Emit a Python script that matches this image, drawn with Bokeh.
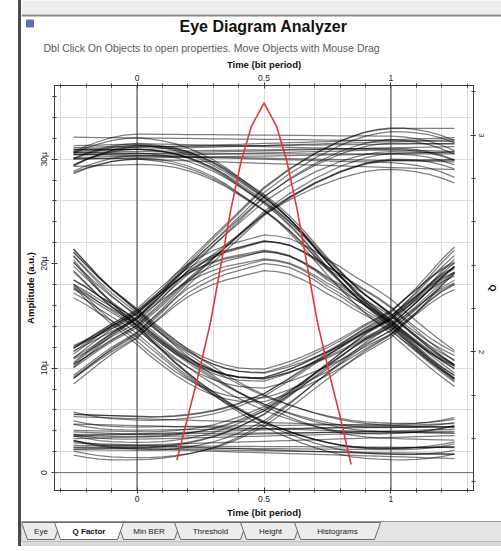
import numpy as np
from bokeh.plotting import figure
from bokeh.layouts import row, column
from bokeh.models import Range1d, LinearAxis, FixedTicker, Span, Grid
from bokeh.core.properties import value
from bokeh.embed import file_html
from bokeh.resources import INLINE

# ---------------- data ----------------
time_grid = [-0.25, -0.20, -0.15, -0.10, -0.05, 0.00, 0.05, 0.10, 0.15, 0.20, 0.25,
             0.30, 0.35, 0.40, 0.45, 0.50, 0.55, 0.60, 0.65, 0.70, 0.75, 0.80,
             0.85, 0.90, 0.95, 1.00, 1.05, 1.10, 1.15, 1.20, 1.25]

# edge shapes (fraction of the 0->1 swing) at offsets -1.0 .. 1.0 step 0.05 from the edge
rise_shape = [0.000, 0.000, 0.002, 0.006, 0.012, 0.020, 0.030, 0.044, 0.060, 0.080,
              0.100, 0.130, 0.160, 0.192, 0.225, 0.256, 0.288, 0.320, 0.350, 0.375,
              0.400, 0.440, 0.480, 0.525, 0.570, 0.610, 0.650, 0.690, 0.730, 0.770,
              0.810, 0.840, 0.870, 0.895, 0.920, 0.940, 0.960, 0.975, 0.988, 0.996, 1.000]
fall_shape = [1.000, 0.998, 0.993, 0.985, 0.972, 0.955, 0.935, 0.910, 0.880, 0.850,
              0.820, 0.785, 0.745, 0.700, 0.650, 0.600, 0.555, 0.510, 0.470, 0.435,
              0.400, 0.362, 0.325, 0.288, 0.254, 0.222, 0.193, 0.165, 0.140, 0.117,
              0.096, 0.078, 0.062, 0.047, 0.034, 0.023, 0.014, 0.007, 0.003, 0.001, 0.000]

edge_times = [-1.0, 0.0, 1.0, 2.0]

bit_patterns = [
    "11111", "00000", "00110", "11000", "11100", "00010", "00100", "11010",
    "01111", "10000", "10110", "01000", "01100", "10010", "10100", "01010",
    "11110", "00001", "00111", "11001", "11101", "00011", "00101", "11011",
    "01110", "10001", "10111", "01001", "01101", "10011", "10101", "01011",
    "11111", "00000", "00110", "11000", "11100", "00010", "00100", "11010",
    "01111", "10000", "00111", "11001", "11101", "00011", "00101", "11011",
    "11111", "00000", "10110", "01000", "01100", "10010", "10100", "01010",
    "11110", "00001", "00111", "11000", "11100", "00011", "00100", "11010",
    "11111", "00000", "01111", "10000", "11110", "00001", "00110", "11001",
    "11100", "00011", "00101", "11010", "10111", "01000", "01101", "10010",
    "11111", "00000", "00111", "11000", "01100", "10011", "10100", "01011",
    "11111", "00000", "01110", "10001", "11101", "00010", "00100", "11011",
]
level_one = [30.8, 31.9, 29.6, 32.4, 30.2, 31.4, 29.1, 32.9,
             31.2, 30.0, 32.0, 29.8, 31.6, 30.5, 33.4, 29.4,
             30.9, 32.2, 29.9, 31.1, 30.4, 32.7, 31.5, 29.7,
             32.3, 30.1, 31.0, 29.5, 31.8, 30.7, 32.5, 30.3,
             31.3, 29.3, 32.8, 30.6, 31.7, 29.9, 30.8, 32.1,
             29.6, 31.5, 30.2, 32.6, 31.0, 29.8, 33.8, 30.5,
             31.9, 30.0, 29.4, 32.3, 30.7, 31.4, 29.9, 32.0,
             30.3, 31.1, 32.9, 29.7, 31.6, 30.4, 31.2, 30.9,
             30.1, 32.4, 31.3, 29.8, 30.6, 31.9, 32.2, 29.5,
             31.0, 30.3, 32.6, 29.9, 31.7, 30.8, 29.6, 32.0,
             31.5, 30.2, 29.7, 32.3, 30.9, 31.2, 33.1, 29.4,
             30.5, 31.8, 30.0, 32.5, 29.9, 31.4, 30.7, 32.8]
level_zero = [3.2, 2.1, 4.4, 3.6, 1.8, 4.9, 2.7, 3.9,
              5.2, 3.0, 2.4, 4.1, 3.4, 1.5, 4.6, 2.9,
              3.7, 4.8, 2.0, 3.3, 5.4, 2.6, 3.9, 1.2,
              2.8, 3.5, 4.3, 2.2, 3.1, 4.7, 1.9, 3.8,
              4.0, 2.5, 3.3, 5.0, 2.3, 3.7, 1.6, 4.5,
              3.0, 4.2, 2.8, 1.4, 3.6, 5.1, 2.4, 3.9,
              2.7, 3.8, 4.6, 2.0, 3.2, 1.7, 4.4, 3.1,
              4.9, 2.2, 3.5, 4.1, 2.6, 3.4, 1.9, 4.3,
              2.9, 4.1, 3.5, 1.9, 4.6, 2.3, 3.8, 5.0,
              2.6, 3.2, 4.4, 1.6, 3.9, 2.1, 4.8, 3.0,
              2.4, 4.2, 3.6, 1.8, 5.3, 2.7, 3.4, 4.0,
              1.3, 3.7, 2.5, 4.5, 3.1, 2.0, 4.9, 3.3]
drift = [0.8, -0.6, 1.2, -1.0, 0.3, -1.4, 0.9, -0.2,
         -0.9, 1.1, -0.4, 0.6, -1.3, 0.2, 1.4, -0.7,
         0.5, -1.1, 0.0, 1.3, -0.5, 0.7, -1.2, 1.0,
         -0.3, 0.9, -0.8, 0.4, 1.5, -1.0, 0.1, -0.6,
         1.1, -0.2, 0.6, -1.4, 0.8, -0.7, 1.2, -0.1,
         -1.2, 0.4, 1.0, -0.5, 0.2, -0.9, 0.7, 1.3,
         -0.4, 0.3, -1.1, 0.9, -0.8, 1.4, -0.3, 0.5,
         0.6, -1.3, 0.1, -0.6, 1.0, -0.2, 0.8, -1.0,
         -0.7, 1.2, 0.4, -1.1, 0.9, -0.3, 1.3, -0.8,
         0.2, -1.4, 0.6, 1.0, -0.5, 0.8, -1.2, 0.3,
         1.1, -0.9, 0.5, -0.1, -1.3, 0.7, 1.4, -0.6,
         0.0, 0.9, -1.0, 0.4, 1.2, -0.4, -0.8, 0.6]

q_time = [0.157, 0.20, 0.243, 0.29, 0.33, 0.37, 0.41, 0.45, 0.50,
          0.55, 0.59, 0.63, 0.67, 0.71, 0.757, 0.80, 0.843]
q_value = [1.50, 1.70, 1.90, 2.14, 2.40, 2.66, 2.88, 3.04, 3.15,
           3.04, 2.88, 2.66, 2.40, 2.14, 1.90, 1.70, 1.48]

time_ticks = [0, 0.5, 1]
time_minor = [-0.3, -0.2, -0.1, 0.0, 0.1, 0.2, 0.3, 0.4, 0.5, 0.6, 0.7, 0.8, 0.9,
              1.0, 1.1, 1.2, 1.3]
amp_ticks = [0, 10, 20, 30]
amp_labels = ["0", "10µ", "20µ", "30µ"]
amp_minor = [0, 2, 4, 6, 8, 10, 12, 14, 16, 18, 20, 22, 24, 26, 28, 30, 32, 34, 36]
amp_grid = [2, 6, 10, 14, 18, 22, 26, 30, 34]
q_ticks = [2, 3]
q_minor = [1.4, 1.6, 1.8, 2.0, 2.2, 2.4, 2.6, 2.8, 3.0, 3.2]
tab_names = ["Eye", "Q Factor", "Min BER", "Threshold", "Height", "Histograms"]

# ---------------- build traces ----------------
def shape_at(t, rising):
    idx = int(round((t + 1.0) / 0.05))
    if idx < 0:
        return 0.0 if rising else 1.0
    if idx > 40:
        return 1.0 if rising else 0.0
    return rise_shape[idx] if rising else fall_shape[idx]

xs, ys = [], []
for pat, hi, lo, dr in zip(bit_patterns, level_one, level_zero, drift):
    bits = [int(c) for c in pat]
    tr = []
    for x in time_grid:
        lev = float(bits[0])
        for k, e in enumerate(edge_times):
            a, b = bits[k], bits[k + 1]
            if b > a:
                lev += shape_at(x - e, True)
            elif b < a:
                lev += shape_at(x - e, False) - 1.0
        tr.append(lo + (hi - lo) * lev + dr * (x - 0.5) / 1.5)
    xs.append(time_grid)
    ys.append(tr)

FONT = "Liberation Sans"

# ---------------- page geometry (page pixels) ----------------
X0 = 21
PAGE_W = 501
CW = PAGE_W - X0
TOP_H = 54
MAIN_H = 466
FOOT_H = 26
TOTAL_H = TOP_H + MAIN_H + FOOT_H

def panel(y0, h):
    f = figure(width=CW, height=h, output_backend="svg", toolbar_location=None,
               x_range=Range1d(X0, PAGE_W), y_range=Range1d(y0 + h, y0),
               x_axis_location=None, y_axis_location=None, min_border=0,
               background_fill_color="white", border_fill_color="white")
    f.outline_line_color = None
    f.xgrid.visible = False
    f.ygrid.visible = False
    return f

# header with title
head = panel(0, TOP_H)
head.quad(left=[X0], right=[PAGE_W], top=[0], bottom=[14], fill_color="#ededed", line_color=None)
head.quad(left=[X0], right=[PAGE_W], top=[14], bottom=[16], fill_color="#8a8a8a", line_color=None)
head.scatter(x=[29.5], y=[23], marker="square", size=8, fill_color="#5b6fc4", line_color=None)
head.text(x=[263], y=[26], text=["Eye Diagram Analyzer"], text_align="center",
          text_baseline="middle", text_font=value(FONT), text_font_size=value("16px"),
          text_font_style="bold", text_color="#111111")
head.text(x=[43], y=[47], text=["Dbl Click On Objects to open properties.  Move Objects with Mouse Drag"],
          text_align="left", text_baseline="middle", text_font=value(FONT),
          text_font_size=value("10.5px"), text_color="#5a5a5a")

# ---------------- main eye diagram ----------------
XR = (-0.325, 1.325)
YR = (-1.71, 37.05)
QR = (1.36, 3.23)
p = figure(width=CW, height=MAIN_H, output_backend="svg", toolbar_location=None,
           x_range=Range1d(*XR), y_range=Range1d(*YR),
           x_axis_location=None, y_axis_location=None,
           min_border_left=52 - X0, min_border_right=28, min_border_top=31, min_border_bottom=28,
           background_fill_color="white", border_fill_color="white")
p.xgrid.visible = False
p.ygrid.visible = False
p.outline_line_color = "#3c3c3c"
p.extra_y_ranges = {"q": Range1d(*QR)}

def style_axis(ax):
    ax.axis_line_color = "#3c3c3c"
    ax.major_tick_line_color = "#3c3c3c"
    ax.minor_tick_line_color = "#3c3c3c"
    ax.major_tick_in = 3
    ax.major_tick_out = 3
    ax.minor_tick_in = 2
    ax.minor_tick_out = 2
    ax.major_label_text_font = FONT
    ax.major_label_text_font_size = "8.5px"
    ax.major_label_text_color = "#222222"
    ax.axis_label_text_font = FONT
    ax.axis_label_text_font_size = "9.5px"
    ax.axis_label_text_font_style = "bold"
    ax.axis_label_text_color = "#111111"
    ax.major_label_standoff = 2
    ax.axis_label_standoff = 2

time_over = {t: (str(t) if t != int(t) else str(int(t))) for t in time_ticks}
for loc in ("below", "above"):
    ax = LinearAxis(ticker=FixedTicker(ticks=time_ticks, minor_ticks=time_minor),
                    axis_label="Time (bit period)", major_label_overrides=time_over)
    style_axis(ax)
    p.add_layout(ax, loc)

ay = LinearAxis(ticker=FixedTicker(ticks=amp_ticks, minor_ticks=amp_minor),
                axis_label="Amplitude (a.u.)",
                major_label_overrides=dict(zip(amp_ticks, amp_labels)))
style_axis(ay)
ay.major_label_orientation = "vertical"
ay.major_label_standoff = 2
ay.axis_label_standoff = 1
p.add_layout(ay, "left")

aq = LinearAxis(y_range_name="q", ticker=FixedTicker(ticks=q_ticks, minor_ticks=q_minor),
                axis_label="Q")
style_axis(aq)
aq.major_label_orientation = "vertical"
aq.major_tick_out = 2
aq.major_label_standoff = 3
aq.axis_label_standoff = 1
aq.axis_label_text_font_size = "9px"
aq.major_label_text_font_size = "8px"
p.add_layout(aq, "right")

p.add_layout(Grid(dimension=0, ticker=FixedTicker(ticks=time_minor),
                  grid_line_color="#dcdcdc", grid_line_width=1))
p.add_layout(Grid(dimension=1, ticker=FixedTicker(ticks=amp_grid),
                  grid_line_color="#dcdcdc", grid_line_width=1))

for loc in (0, 1):
    p.add_layout(Span(location=loc, dimension="height", line_color="#3a3a3a", line_width=1))
p.add_layout(Span(location=0, dimension="width", line_color="#6a6a6a", line_width=1))

p.multi_line(xs, ys, line_color="black", line_alpha=0.5, line_width=1.25)
p.line(q_time, q_value, y_range_name="q", line_color="#e03838", line_width=1.6)

# ---------------- footer with tabs ----------------
FY = TOP_H + MAIN_H
foot = panel(FY, FOOT_H)
foot.quad(left=[X0], right=[PAGE_W], top=[FY + 1], bottom=[541],
          fill_color="#e4e4e4", line_color="#9a9a9a")
foot.quad(left=[X0], right=[PAGE_W], top=[541], bottom=[TOTAL_H],
          fill_color="#dadada", line_color=None)
tab_edges = [24, 57, 120, 177, 243, 297, 377]
for i in [0, 2, 3, 4, 5, 1]:
    a, b = tab_edges[i], tab_edges[i + 1]
    foot.patch([a - 3, b + 3, b - 3, a + 3], [522, 522, 539, 539],
               fill_color="white" if i == 1 else "#ececec", line_color="#6a6a6a", line_width=1)
tab_x = [(tab_edges[i] + tab_edges[i + 1]) / 2 for i in range(len(tab_names))]
foot.text(x=tab_x[:1] + tab_x[2:], y=[531] * (len(tab_names) - 1),
          text=tab_names[:1] + tab_names[2:], text_align="center", text_baseline="middle",
          text_font=value(FONT), text_font_size=value("8px"), text_color="#222222")
foot.text(x=[tab_x[1]], y=[531], text=[tab_names[1]], text_align="center",
          text_baseline="middle", text_font=value(FONT), text_font_size=value("8px"),
          text_font_style="bold", text_color="#111111")

layout = column(head, row(p), foot,
                styles={"margin-left": "18px", "border-left": "3px solid #4a4a4a",
                        "background-color": "white"})
open("out.html", "w").write(file_html(layout, INLINE))
